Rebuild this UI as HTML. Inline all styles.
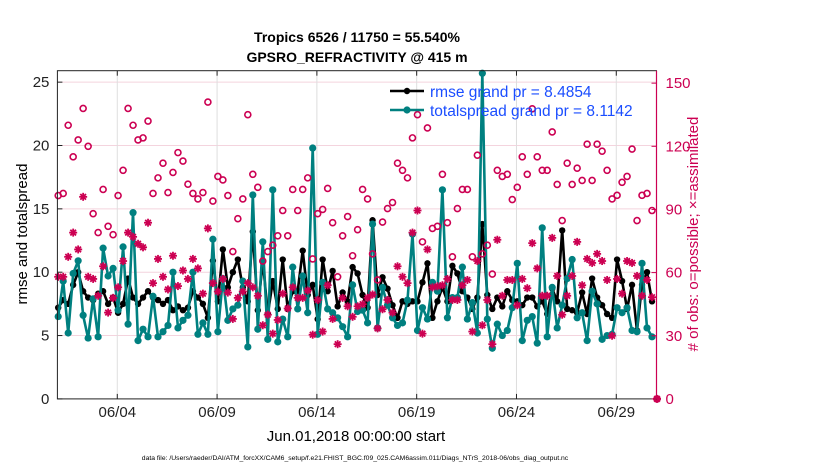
<!DOCTYPE html>
<html><head><meta charset="utf-8"><style>
body{margin:0;background:#fff}
svg{display:block;font-family:"Liberation Sans",sans-serif}
</style></head><body>
<svg id="c" width="830" height="470" viewBox="0 0 830 470">
<text x="357" y="42" text-anchor="middle" font-size="14" font-weight="bold">Tropics 6526 / 11750 = 55.540%</text>
<text x="357" y="62" text-anchor="middle" font-size="14" font-weight="bold">GPSRO_REFRACTIVITY @ 415 m</text>
<g id="grid"></g><g id="plot"></g><g id="axes"></g>
<text transform="translate(27,234) rotate(-90)" text-anchor="middle" font-size="15">rmse and totalspread</text>
<text transform="translate(698,234) rotate(-90)" text-anchor="middle" font-size="15" fill="#cc0052"># of obs: o=possible; ×=assimilated</text>
<text x="356" y="441" text-anchor="middle" font-size="15">Jun.01,2018 00:00:00 start</text>
<text x="355" y="460" text-anchor="middle" font-size="6.8">data file: /Users/raeder/DAI/ATM_forcXX/CAM6_setup/f.e21.FHIST_BGC.f09_025.CAM6assim.011/Diags_NTrS_2018-06/obs_diag_output.nc</text>
<g id="legend"></g>
</svg>
<script>
const rmse=[7.2,7.8,7.5,9.0,10.0,8.5,8.0,7.8,8.3,8.5,7.5,8.0,6.8,7.5,9.5,8.0,7.5,8.0,8.5,8.0,7.8,7.5,7.8,7.0,7.3,7.0,7.2,8.5,8.0,7.5,6.4,
10.9,7.7,11.8,8.8,10.0,11.0,8.8,7.7,13.2,7.0,10.9,6.7,9.3,7.1,11.0,7.1,8.5,8.5,11.7,8.2,9.0,6.3,11.0,8.5,10.1,7.3,8.4,7.7,10.4,9.9,
8.2,7.2,14.1,8.2,9.6,8.7,7.4,6.4,7.7,7.5,7.7,7.7,9.2,10.7,6.4,7.7,8.8,7.7,10.5,9.9,8.5,8.0,7.1,8.0,13.8,8.2,7.1,8.0,7.3,8.5,
7.8,7.7,7.4,8.0,8.0,7.3,7.7,6.7,8.7,7.7,13.3,7.1,7.0,6.8,8.4,6.7,9.5,8.0,7.4,6.7,6.4,11.0,9.3,7.1,9.0,5.4,9.0,10.0,7.7,null];
const spread=[6.5,9.3,5.2,9.9,10.9,6.6,4.8,7.9,4.9,11.9,9.7,10.3,7.0,12.0,5.9,14.7,4.6,5.5,4.9,8.1,4.9,5.3,5.8,10.0,5.6,6.2,6.6,10.0,5.1,6.0,5.1,
12.6,5.3,9.5,6.2,7.1,7.4,9.3,4.1,16.1,5.5,12.4,4.7,16.5,4.5,6.3,4.9,10.4,7.1,9.7,6.8,19.8,5.1,9.2,7.1,6.8,6.4,5.7,4.9,9.0,6.9,
7.0,6.0,13.8,5.6,8.8,7.4,6.4,5.8,6.0,7.8,13.0,5.4,7.2,6.3,9.2,8.5,16.5,6.4,8.0,8.0,10.4,6.3,7.6,5.2,25.7,6.3,4.0,5.9,5.0,5.4,
7.2,10.7,4.6,6.2,6.5,4.4,13.5,4.9,8.8,5.6,7.4,9.5,11.0,6.4,6.8,4.6,8.5,7.5,4.7,5.0,5.1,7.2,6.8,7.2,5.4,5.3,10.7,5.6,4.9,null];
const possible=[96.6,97.6,130,115,123,138,120,88,79,99.5,82,78,96.6,108.6,138,130,123,124,132,97.6,105,112,98,107.6,117,113,102,97.6,95,98,141,
94,105.7,104,96.6,70,85.6,95,135,106.7,100.5,65.5,70,73,77.5,89.5,77.5,99.5,89.5,99.5,105,66.5,88,90,100,83.7,58,77.5,86.6,68,80.4,
99.5,95,68.9,56.5,84,90.4,93.3,112,108.6,105,124,135,74.6,128.7,81,82,106.7,83.7,67.5,90.4,99.5,99.5,67.5,115.8,68.9,73,59.3,108.6,105.7,106.7,
94.7,100.5,115,106.7,137.8,115,108.6,108.6,126.8,101.9,84.7,112,101.9,109.6,103.8,121,103.8,121,117.7,108.6,95,96.7,102.9,105.7,118.7,84.7,96.7,97.6,89.5,0];
const assimilated=[58,58,67.5,79,71,96,58,57,49,63,41,48,53,65.5,79,77,73.7,72,83.7,55,66.5,58,52,68,53.6,61,57,66.5,62,50,81,
55,51,57,50.5,38,48,51,55,53,49,35,40,31,37.5,50,43,53,48,48,51.5,30.5,47,32,54,38,26,48,44,39,44,
45,48,49.6,33.5,42.6,47,41,63,58,55,79,89.5,31,71,53,53.5,54,57,47,47,54,56.5,32,65.5,35,47,26,75.6,49,56.5,
56.5,44.5,57,52.6,74,62,49,49,76.5,58.4,40,49,58.4,74.6,54,66.5,64.6,68.9,65.5,56.5,30,57,50,65.5,64.6,58.4,49,56.5,48.3,0];
const xTickDays=[3,8,13,18,23,28];
const xTickLabels=["06/04","06/09","06/14","06/19","06/24","06/29"];
const leftTicks=[0,5,10,15,20,25];
const rightTicks=[0,30,60,90,120,150];
const legendLabels=["rmse grand pr = 8.4854","totalspread grand pr = 8.1142"];

const NS="http://www.w3.org/2000/svg";
const L=57.4,R=656.5,T=70.7,B=398.9;
const X=d=>L+d*19.96;
const YL=v=>B-v*12.67;
const YR=v=>B-v*2.105;
const dayOf=i=>i/4+0.04;
const CR="#cc0052",TEAL="#008080";
function mk(tag,attrs,parent){const e=document.createElementNS(NS,tag);for(const k in attrs)e.setAttribute(k,attrs[k]);parent.appendChild(e);return e;}
const grid=document.getElementById('grid'),plot=document.getElementById('plot'),axes=document.getElementById('axes'),legend=document.getElementById('legend');

mk('rect',{x:L,y:T,width:R-L,height:B-T,fill:'#fff'},grid);
leftTicks.forEach(v=>{if(v>0){const g=mk('line',{x1:L,x2:R,y1:YL(v),y2:YL(v),stroke:'#f4d4de','stroke-width':1},grid);

}});
xTickDays.forEach((d,k)=>{const g=mk('line',{x1:X(d),x2:X(d),y1:T,y2:B,stroke:'#dedede','stroke-width':1},grid);


mk('line',{x1:X(d),x2:X(d),y1:B,y2:B-5,stroke:'#222'},axes);
mk('line',{x1:X(d),x2:X(d),y1:T,y2:T+5,stroke:'#222'},axes);
const t=mk('text',{x:X(d),y:B+18,'text-anchor':'middle','font-size':15,fill:'#222'},axes);t.textContent=xTickLabels[k];

});

function series(vals,color,r,name){
 let d='',pen=false;
 vals.forEach((v,i)=>{if(v==null){pen=false;return;}d+=(pen?'L':'M')+X(dayOf(i)).toFixed(1)+' '+YL(v).toFixed(1);pen=true;});
 const p=mk('path',{d:d,fill:'none',stroke:color,'stroke-width':2.6,'stroke-linejoin':'round'},plot);
 
 
 vals.forEach((v,i)=>{if(v==null)return;const c=mk('circle',{cx:X(dayOf(i)),cy:YL(v),r:r,fill:color},plot);
 
 });
}
series(rmse,'#000',3.2,'rmse');
series(spread,TEAL,3.6,'totalspread');

possible.forEach((v,i)=>{const c=mk('circle',{cx:X(dayOf(i)),cy:YR(v),r:3,fill:'none',stroke:CR,'stroke-width':1.6},plot);

});
assimilated.forEach((v,i)=>{const cx=X(dayOf(i)),cy=YR(v);const g=mk('g',{stroke:CR,'stroke-width':1.8},plot);


[0,45,90,135].forEach(a=>{const r=a*Math.PI/180,dx=4*Math.cos(r),dy=4*Math.sin(r);mk('line',{x1:cx-dx,y1:cy-dy,x2:cx+dx,y2:cy+dy},g);});});

const fr=mk('rect',{x:L,y:T,width:R-L,height:B-T,fill:'none',stroke:'#222','stroke-width':1},axes);


mk('line',{x1:R,x2:R,y1:T,y2:B,stroke:CR,'stroke-width':1.2},axes);
leftTicks.forEach(v=>{mk('line',{x1:L,x2:L+5,y1:YL(v),y2:YL(v),stroke:'#222'},axes);
const t=mk('text',{x:L-8,y:YL(v)+5,'text-anchor':'end','font-size':15,fill:'#222'},axes);t.textContent=v;

});
rightTicks.forEach(v=>{mk('line',{x1:R-5,x2:R,y1:YR(v),y2:YR(v),stroke:CR},axes);
const t=mk('text',{x:R+9,y:YR(v)+5,'font-size':15,fill:CR},axes);t.textContent=v;

});

[['#000',3.2],[TEAL,3.6]].forEach((s,k)=>{const y=91+k*19;
const g=mk('g',{},legend);


mk('line',{x1:390,x2:424,y1:y,y2:y,stroke:s[0],'stroke-width':2.6},g);
mk('circle',{cx:407,cy:y,r:s[1],fill:s[0]},g);
const t=mk('text',{x:430,y:y+6,'font-size':15.5,fill:'#1a4dff'},g);t.textContent=legendLabels[k];});
</script>
</body></html>
